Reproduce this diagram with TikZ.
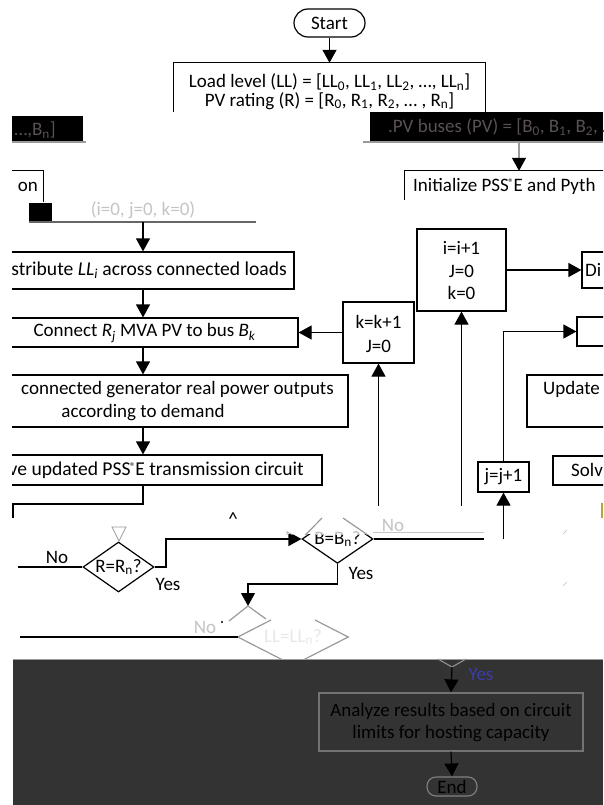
\documentclass[tikz,border=0pt]{standalone}
\usepackage{fontspec}
\setmainfont{Carlito}
\usetikzlibrary{arrows.meta,shapes.geometric}
\definecolor{panel}{HTML}{333333}
\definecolor{ghost}{HTML}{C4C4C4}
\definecolor{faint}{HTML}{9A9A9A}
\definecolor{bandtext}{HTML}{5A5252}
\definecolor{yesblue}{HTML}{3C3CA8}
\definecolor{paneltext}{HTML}{000000}
\newcommand{\regmark}{\kern-0.5pt\raisebox{0.55ex}{\fontsize{11}{11}\selectfont ®}\kern-0.3pt}
\begin{document}
\begin{tikzpicture}[x=1pt,y=-1pt,
  font=\fontsize{19}{23}\selectfont,
  line/.style={line width=1.2pt},
  arr/.style={line width=1.2pt,-{Triangle[length=13pt,width=14pt]}},
  box/.style={draw,line width=1.2pt,inner sep=0pt},
  txt/.style={inner sep=0pt},
  wide/.style={font=\fontsize{19.6}{23}\selectfont},
  cond/.style={diamond,aspect=1.4,inner sep=0pt}]
\useasboundingbox (0,0) rectangle (603,805);
\fill[white] (0,0) rectangle (603,805);

\begin{scope}
\clip (12,0) rectangle (603,805);
% start and input lists
\node[box,rounded corners=14pt,minimum width=71pt,minimum height=28pt] (start) at (329.5,23) {Start};
\node[minimum width=311pt,minimum height=49pt] (load) at (329.5,87.5) {};
\draw[line] (load.south west) -- (load.north west) -- (load.north east) -- (load.south east);
\node[txt] (ll) at (329.5,82) {Load level (LL) = [LL\textsubscript{0}, LL\textsubscript{1}, LL\textsubscript{2}, …, LL\textsubscript{n}]};
\node[txt] (pv) at (329.5,101) {PV rating (R) = [R\textsubscript{0}, R\textsubscript{1}, R\textsubscript{2}, … , R\textsubscript{n}]};
\draw[arr] (start.south) -- (load.north);

% dark bands
\fill[black] (12,116) rectangle (83,141);
\draw[faint,line width=1.6pt] (12,142) -- (86,142);
\node[txt,anchor=east,text=bandtext] (bl) at (56,130) {…,B\textsubscript{n}]};
\fill[black] (370,112) rectangle (603,141);
\draw[faint,line width=1.6pt] (363,142) -- (603,142);
\node[txt,anchor=west,text=bandtext] (br) at (388,127) {.PV buses (PV) = [B\textsubscript{0}, B\textsubscript{1}, B\textsubscript{2}, …};

% initialisation
\node[minimum width=220pt,minimum height=29pt] (init) at (515,185.5) {};
\draw[line] (init.south west) -- (init.north west) -- (init.north east);
\node[txt,anchor=west] (initt) at (413,186) {Initialize PSS\regmark E and Pyth};
\coordinate (bandout) at (519,142);
\draw[faint,line width=1.3pt,-{Triangle[length=13pt,width=14pt,black]}] (bandout) -- (init.north -| bandout);

\node[minimum width=60pt,minimum height=31pt] (onbox) at (13,186.5) {};
\draw[line] (onbox.north west) -- (onbox.north east) -- (onbox.south east);
\node[txt,anchor=east] (ontext) at (38,187) {on};
\fill[black] (29,203) rectangle (52,222);
\draw[black!60,line width=2pt] (29,222) -- (256,222);
\node[txt,text=ghost] (ijk) at (143,210) {(i=0, j=0, k=0)};
\coordinate (split) at (143,222);

% main column
\node[box,minimum width=334pt,minimum height=37pt] (dist) at (127,270.5) {};
\node[txt,wide,anchor=east] (distt) at (287,270) {Distribute \textit{LL\textsubscript{i}} across connected loads};
\draw[arr] (split) -- (dist.north -| split);

\node[box,minimum width=338pt,minimum height=29pt] (conn) at (129,332.5) {};
\node[txt] (connt) at (144.5,333) {Connect \textit{R\textsubscript{j}} MVA PV to bus \textit{B\textsubscript{k}}};
\draw[arr] (dist.south -| split) -- (conn.north -| split);

\node[box,minimum width=388pt,minimum height=52pt] (gen) at (154,401) {};
\node[txt,anchor=east] (gent) at (334,390) {connected generator real power outputs};
\node[txt] (gent2) at (143,413) {according to demand};
\draw[arr] (conn.south -| split) -- (gen.north -| split);

\node[box,minimum width=362pt,minimum height=30pt] (save) at (141,470) {};
\node[txt,wide,anchor=east] (savet) at (304,470) {Save updated PSS\regmark E transmission circuit};
\draw[arr] (gen.south -| split) -- (save.north -| split);
\coordinate (loopl) at (13,518);
\draw[line] (save.south -| split) -- (143,504) -- (13,504) -- (loopl);

% rating decision
\node[cond,draw,line width=1.2pt,minimum width=71pt,minimum height=50pt] (rdec) at (118.5,567) {R=R\textsubscript{n}?};
\draw[faint,line width=0.8pt] (112,527) -- (126,527) -- (119,541) -- cycle;
\coordinate (rno) at (18,567);
\draw[line] (rno) -- (rdec.west);
\node[txt] (rnol) at (57,557) {No};
\node[txt] (ryes) at (168,584) {Yes};

% bus decision
\node[cond,draw,line width=1.2pt,minimum width=71pt,minimum height=48pt] (bdec) at (337.5,539) {B=B\textsubscript{n}?};
\draw[arr] (rdec.east) -- (166,567) -- (166,539) -- (bdec.west);
\node[txt] (byes) at (361,573) {Yes};
\coordinate (bno) at (484,539);
\draw[line] (bdec.east) -- (bno);

% load level decision
\node[cond,minimum width=110pt,minimum height=56pt] (lldec) at (293,637) {};
\coordinate (lltop) at (248,606);
\draw[arr] (bdec.south) -- (337.5,584) -- (248,584) -- (lltop);
\draw[faint,line width=1.2pt] (271,620) -- (lldec.west) -- (lldec.south) -- (lldec.east) -- (315,620);
\draw[faint,line width=1.2pt] (229,621) -- (lltop) -- (266,619);
\node[txt,text=black!9] (llt) at (lldec) {LL=LL\textsubscript{n}?};
\coordinate (llno) at (20,637);
\draw[line] (llno) -- (lldec.west);
\node[txt,text=ghost] (llnol) at (205,627) {No};
\fill (222,622) circle (1.2pt);

% loop counters
\node[box,minimum width=71pt,minimum height=61pt] (kinc) at (378.5,332.5) {};
\node[txt] (kt1) at (378.5,322) {k=k+1};
\node[txt] (kt2) at (378.5,346) {J=0};
\draw[arr] (kinc.west) -- (conn.east);
\coordinate (kup) at (378.5,518);
\draw[arr] (kup) -- (kinc.south);

\node[box,minimum width=89pt,minimum height=82pt] (iinc) at (461.5,270) {};
\node[txt] (it1) at (461.5,248) {i=i+1};
\node[txt] (it2) at (461.5,271) {J=0};
\node[txt] (it3) at (461.5,293) {k=0};
\coordinate (iup) at (461.5,518);
\draw[arr] (iup) -- (iinc.south);
\node[box,minimum width=60pt,minimum height=36pt] (disc) at (612,270) {};
\node[txt,anchor=west] (disct) at (585,270) {Di};
\draw[arr] (iinc.east) -- (disc.west);

\node[box,minimum width=60pt,minimum height=29pt] (nbox) at (607,331.5) {};
\node[box,minimum width=51pt,minimum height=30pt] (jinc) at (503.5,477) {j=j+1};
\draw[arr] (jinc.north) -- (503.5,331.5) -- (nbox.west);
\coordinate (jup) at (503.5,539);
\draw[arr] (jup) -- (jinc.south);
\node[box,minimum width=100pt,minimum height=52pt] (upd) at (577,401) {};
\node[txt,anchor=west] (updt) at (543,389) {Update};
\node[box,minimum width=70pt,minimum height=29pt] (solve) at (588,470.5) {};
\node[txt,anchor=west] (solvet) at (571,470) {Solv};
\fill[olive!70] (601,503) rectangle (603,518);

% washed-out strip over the bus decision: redraw its contents in grey
\begin{scope}
\clip (286,506) rectangle (500,534);
\fill[white] (286,506) rectangle (500,534);
\draw[faint,line width=1.2pt] (bdec.west) -- (322,518);
\draw[faint,line width=1.2pt] (343,518) -- (bdec.east);
\draw[faint,line width=0.8pt] (287,532) -- (301,539) -- (287,546) -- cycle;
\node[txt,text=black!25] (bdect) at (bdec) {B=B\textsubscript{n}?};
\end{scope}
\draw[ghost,line width=1pt] (373,532) -- (484,532);
\node[txt,text=ghost] (bnol) at (393,525) {No};
\node[txt] (caret) at (233,519) {\^{}};
\draw[black!25,line width=0.6pt] (563,534) -- (567,530) (563,586) -- (567,582);
\end{scope}

% lower panel
\fill[panel] (13,659) rectangle (603,805);
\draw[faint,line width=0.8pt] (13,659) -- (603,659);
\coordinate (vl) at (438,659);
\coordinate (vr) at (466,659);
\coordinate (vtip) at (452,667);
\draw[faint,line width=1pt] (vl) -- (vtip) -- (vr);
\node[box,draw=black!55,minimum width=264pt,minimum height=58pt] (ana) at (451,722) {};
\node[txt,text=paneltext] (anat1) at (451,711) {Analyze results based on circuit};
\node[txt,text=paneltext] (anat2) at (451,734) {limits for hosting capacity};
\draw[arr] (vtip) -- (ana.north);
\node[txt,text=yesblue] (ayes) at (481,674) {Yes};
\node[draw=black!50,line width=1.1pt,rounded corners=9pt,minimum width=50pt,minimum height=19pt,inner sep=0pt,text=paneltext] (endn) at (452,786.5) {End};
\draw[arr] (ana.south) -- (endn.north);
\end{tikzpicture}
\end{document}
